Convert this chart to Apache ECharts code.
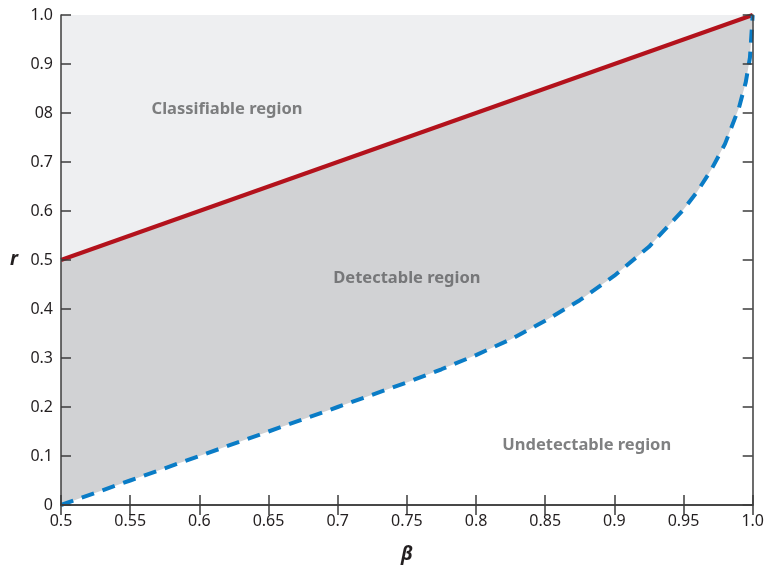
<!DOCTYPE html>
<html lang="en">
<head>
    <meta charset="UTF-8">
    <title>Detection boundary</title>
    <script src="https://cdn.jsdelivr.net/npm/echarts@6/dist/echarts.min.js"></script>
    <style>
        html, body { margin: 0; padding: 0; background: #fff; }
        #main { width: 767px; height: 569px; }
    </style>
</head>
<body>
<div id="main"></div>
<script>
    // data ------------------------------------------------
    var xTicks = ['0.5', '0.55', '0.6', '0.65', '0.7', '0.75', '0.8', '0.85', '0.9', '0.95', '1.0'];
    var yTicks = ['0', '0.1', '0.2', '0.3', '0.4', '0.5', '0.6', '0.7', '08', '0.9', '1.0'];

    // classification boundary (red, solid)
    var classBeta = [0.5, 1.0];
    var classR = [0.5, 1.0];

    // detection boundary (blue, dashed)
    var detectBeta = [0.5, 0.55, 0.6, 0.65, 0.7, 0.75, 0.775, 0.8, 0.825, 0.85, 0.875, 0.9, 0.925, 0.95, 0.96, 0.97, 0.98, 0.99, 0.995, 0.998, 1.0];
    var detectR = [0, 0.05, 0.1, 0.15, 0.2, 0.25, 0.277, 0.306, 0.338, 0.376, 0.418, 0.468, 0.527, 0.603, 0.64, 0.684, 0.737, 0.81, 0.863, 0.913, 1.0];

    // region labels
    var regionNames = ['Classifiable region', 'Detectable region', 'Undetectable region'];
    var regionBeta = [0.62, 0.75, 0.88];
    var regionR = [0.807, 0.462, 0.122];

    function pairs(xs, ys) {
        var out = [];
        for (var i = 0; i < xs.length; i++) out.push([xs[i], ys[i]]);
        return out;
    }

    var font = 'Noto Sans';
    var axisColor = '#3d3d3d';
    var tickStyle = { show: true, inside: true, length: 10, lineStyle: { color: axisColor, width: 1.5 } };
    var lineStyleAxis = { show: true, lineStyle: { color: axisColor, width: 1.5 } };
    var nameStyle = { fontFamily: font, fontSize: 19, fontWeight: 'bold', fontStyle: 'italic', color: '#231f20' };

    var chart = echarts.init(document.getElementById('main'));
    var option = {
        animation: false,
        grid: {
            left: 61, right: 13, top: 15, bottom: 61,
            show: true,
            backgroundColor: '#eeeff1',
            borderWidth: 0
        },
        xAxis: [
            {
                type: 'value', min: 0.5, max: 1.0, interval: 0.05, z: 10,
                name: 'β', nameLocation: 'middle', nameGap: 40,
                nameTextStyle: nameStyle,
                axisLine: lineStyleAxis,
                axisTick: tickStyle,
                axisLabel: {
                    fontFamily: font, fontSize: 16, color: '#231f20', margin: 8,
                    formatter: function (v) { return xTicks[Math.round((v - 0.5) / 0.05)]; }
                },
                splitLine: { show: false }
            },
            {
                type: 'value', min: 0.5, max: 1.0, interval: 0.05, position: 'top', z: 10,
                axisLine: lineStyleAxis,
                axisTick: tickStyle,
                axisLabel: { show: false },
                splitLine: { show: false }
            }
        ],
        yAxis: [
            {
                type: 'value', min: 0, max: 1.0, interval: 0.1, z: 10,
                name: 'r', nameLocation: 'middle', nameGap: 43, nameRotate: 0,
                nameTextStyle: nameStyle,
                axisLine: lineStyleAxis,
                axisTick: tickStyle,
                axisLabel: {
                    fontFamily: font, fontSize: 16, color: '#231f20', margin: 8,
                    formatter: function (v) { return yTicks[Math.round(v * 10)]; }
                },
                splitLine: { show: false }
            },
            {
                type: 'value', min: 0, max: 1.0, interval: 0.1, position: 'right', z: 10,
                axisLine: lineStyleAxis,
                axisTick: tickStyle,
                axisLabel: { show: false },
                splitLine: { show: false }
            }
        ],
        series: [
            {
                name: 'detectable',
                type: 'line',
                data: pairs(classBeta, classR),
                symbol: 'none',
                lineStyle: { width: 0 },
                areaStyle: { color: '#d1d2d4', opacity: 1, origin: 'start' },
                z: 1
            },
            {
                name: 'undetectable',
                type: 'line',
                data: pairs(detectBeta, detectR),
                symbol: 'none',
                lineStyle: { width: 0 },
                areaStyle: { color: '#ffffff', opacity: 1, origin: 'start' },
                z: 2
            },
            {
                name: 'classification boundary',
                type: 'line',
                data: pairs(classBeta, classR),
                symbol: 'none',
                lineStyle: { color: '#b3121c', width: 4 },
                z: 4
            },
            {
                name: 'detection boundary',
                type: 'line',
                data: pairs(detectBeta, detectR),
                symbol: 'none',
                lineStyle: { color: '#0a7cc6', width: 4, type: [13, 9] },
                z: 5
            },
            {
                name: 'labels',
                type: 'scatter',
                data: pairs(regionBeta, regionR).map(function (p, i) {
                    return { value: p, name: regionNames[i] };
                }),
                symbolSize: 0,
                label: {
                    show: true, position: 'inside',
                    formatter: '{b}',
                    fontFamily: font, fontSize: 16.5, fontWeight: 'bold', color: '#5f6062'
                },
                z: 6
            }
        ]
    };
    chart.setOption(option);
</script>
</body>
</html>
